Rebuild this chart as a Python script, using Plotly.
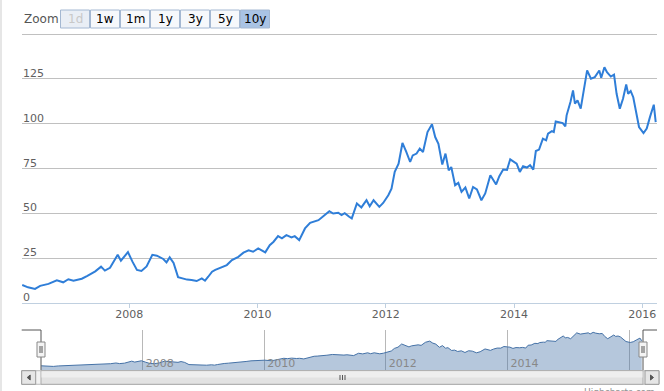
import pandas as pd
import plotly.graph_objects as go

# ---- data (decimal year, closing price) ----
year_pos = [
    2006.33, 2006.42, 2006.53, 2006.61, 2006.74, 2006.87, 2006.97, 2007.05, 2007.13, 2007.26,
    2007.34, 2007.47, 2007.56, 2007.62, 2007.70, 2007.82, 2007.87, 2007.98, 2008.05, 2008.12,
    2008.19, 2008.27, 2008.36, 2008.43, 2008.53, 2008.58, 2008.63, 2008.69, 2008.76, 2008.82,
    2008.90, 2008.97, 2009.05, 2009.13, 2009.18, 2009.23, 2009.29, 2009.34, 2009.41, 2009.52,
    2009.60, 2009.70, 2009.78, 2009.86, 2009.93, 2010.01, 2010.12, 2010.19, 2010.25, 2010.32,
    2010.38, 2010.45, 2010.53, 2010.58, 2010.65, 2010.74, 2010.82, 2010.87, 2010.95, 2011.03,
    2011.12, 2011.18, 2011.26, 2011.31, 2011.36, 2011.43, 2011.47, 2011.55, 2011.62, 2011.70,
    2011.75, 2011.81, 2011.90, 2011.96, 2012.04, 2012.09, 2012.14, 2012.20, 2012.26, 2012.32,
    2012.38, 2012.42, 2012.48, 2012.53, 2012.58, 2012.65, 2012.72, 2012.77, 2012.82, 2012.88,
    2012.93, 2012.98, 2013.02, 2013.08, 2013.13, 2013.18, 2013.24, 2013.30, 2013.36, 2013.42,
    2013.49, 2013.55, 2013.63, 2013.72, 2013.77, 2013.83, 2013.89, 2013.94, 2014.00, 2014.04,
    2014.09, 2014.14, 2014.20, 2014.25, 2014.30, 2014.34, 2014.39, 2014.45, 2014.50, 2014.53,
    2014.59, 2014.62, 2014.65, 2014.71, 2014.76, 2014.80, 2014.82, 2014.88, 2014.92, 2014.95,
    2014.99, 2015.04, 2015.08, 2015.14, 2015.20, 2015.26, 2015.33, 2015.36, 2015.41, 2015.45,
    2015.51, 2015.56, 2015.60, 2015.65, 2015.70, 2015.75, 2015.78, 2015.82, 2015.86, 2015.90,
    2015.95, 2016.02, 2016.07, 2016.12, 2016.18, 2016.21,
]
price = [
    10.2, 8.9, 8.0, 9.7, 10.8, 12.8, 11.7, 13.4, 12.6, 13.7,
    15.2, 17.8, 20.4, 18.2, 19.8, 27.0, 23.7, 28.5, 23.2, 18.6,
    18.0, 20.5, 27.0, 26.5, 24.7, 22.8, 25.6, 22.5, 14.6, 13.9,
    13.2, 13.0, 12.4, 13.9, 12.6, 14.8, 17.6, 18.6, 19.8, 21.3,
    24.1, 25.9, 28.2, 29.5, 28.7, 30.6, 28.4, 32.4, 34.3, 37.4,
    36.2, 38.0, 36.7, 37.4, 35.2, 41.7, 44.8, 45.4, 46.3, 48.6,
    51.3, 50.0, 50.4, 49.1, 50.2, 48.2, 47.3, 55.6, 53.4, 57.4,
    54.1, 57.4, 53.7, 55.9, 60.2, 63.9, 73.2, 77.8, 89.3, 84.3,
    78.7, 82.4, 83.4, 86.2, 84.3, 95.4, 99.7, 92.6, 88.9, 77.3,
    83.4, 74.1, 75.9, 65.8, 67.1, 62.1, 64.5, 58.4, 64.8, 63.4,
    57.4, 61.2, 71.3, 66.2, 70.8, 74.5, 74.3, 80.2, 78.7, 77.8,
    73.2, 76.3, 75.6, 76.9, 74.5, 84.8, 85.6, 91.7, 90.8, 94.5,
    95.9, 95.4, 101.3, 100.6, 100.4, 98.6, 104.7, 112.1, 118.6, 111.2,
    113.0, 108.4, 116.7, 129.7, 125.1, 126.0, 129.7, 125.6, 131.5, 128.7,
    126.3, 127.4, 116.7, 108.4, 113.9, 121.9, 116.7, 118.2, 114.8, 106.5,
    98.2, 94.8, 97.3, 103.7, 110.6, 100.9,
]
x_tick_years = [2008, 2010, 2012, 2014, 2016]
y_tick_vals = [0, 25, 50, 75, 100, 125, 150]
y_tick_text = ["0", "25", "50", "75", "100", "125", ""]
zoom_buttons = ["1d", "1w", "1m", "1y", "3y", "5y", "10y"]
selected_button = "10y"
disabled_button = "1d"
range_start, range_end = 2006.3266, 2016.2299


def to_date(y):
    yr = int(y)
    start = pd.Timestamp(yr, 1, 1)
    days = (pd.Timestamp(yr + 1, 1, 1) - start).days
    return start + pd.Timedelta(days=(y - yr) * days)


dates = [to_date(v) for v in year_pos]
x_range = [to_date(range_start), to_date(range_end)]
tick_dates = [pd.Timestamp(y, 1, 1) for y in x_tick_years]

W, H = 664, 391
FONT = "DejaVu Sans"


def px(x):
    return x / W


def py(y):
    return 1 - y / H


# main plot geometry (pixels): value 0 at y=303.3, value 150 at y=34
Y0_PX, Y150_PX = 303.3, 34.0
PX_PER_UNIT = (Y0_PX - Y150_PX) / 150.0
Y_MIN, Y_MAX = -4.0, 150.6
y_dom_bottom = Y0_PX - Y_MIN * PX_PER_UNIT
y_dom_top = Y0_PX - Y_MAX * PX_PER_UNIT

fig = go.Figure()

# main series
fig.add_trace(go.Scatter(x=dates, y=price, mode="lines",
                         line=dict(color="#2f7ed8", width=2),
                         xaxis="x", yaxis="y", hoverinfo="skip", showlegend=False))

# navigator baseline + area
nav_min = -5
fig.add_trace(go.Scatter(x=dates, y=[nav_min] * len(dates), mode="lines",
                         line=dict(width=0, color="rgba(0,0,0,0)"),
                         xaxis="x2", yaxis="y2", hoverinfo="skip", showlegend=False))
fig.add_trace(go.Scatter(x=dates, y=price, mode="lines", fill="tonexty",
                         fillcolor="rgba(69,114,167,0.40)",
                         line=dict(color="#4572A7", width=1),
                         xaxis="x2", yaxis="y2", hoverinfo="skip", showlegend=False))

shapes = []
annotations = []

# page left border
shapes.append(dict(type="rect", xref="paper", yref="paper", x0=0, x1=px(2),
                   y0=0, y1=1, fillcolor="#e6e6e6", line=dict(width=0), layer="below"))

# white mask below the zero line (hides the padding strip under the axis)
shapes.append(dict(type="rect", xref="paper", yref="paper", x0=px(22), x1=px(657),
                   y0=py(y_dom_bottom + 0.5), y1=py(Y0_PX + 0.6), fillcolor="#ffffff",
                   line=dict(width=0), layer="below"))

# range selector buttons
bx0, bw, bstep = 60.5, 29, 30
for i, lab in enumerate(zoom_buttons):
    x0 = bx0 + i * bstep
    fill = "#f6f8fb"
    color = "#000000"
    if lab == selected_button:
        fill = "#a9c3e4"
    if lab == disabled_button:
        fill = "#e9eef5"
        color = "#c8c8c8"
    shapes.append(dict(type="rect", xref="paper", yref="paper",
                       x0=px(x0), x1=px(x0 + bw), y0=py(28), y1=py(10),
                       fillcolor=fill, line=dict(color="#a4b8d2", width=1)))
    annotations.append(dict(text=lab, xref="paper", yref="paper",
                            x=px(x0 + bw / 2), y=py(19), xanchor="center", yanchor="middle",
                            showarrow=False, font=dict(family=FONT, size=12, color=color)))
annotations.append(dict(text="Zoom", xref="paper", yref="paper", x=px(22), y=py(19),
                        xanchor="left", yanchor="middle", showarrow=False,
                        font=dict(family=FONT, size=12, color="#555555")))

# navigator outline
shapes.append(dict(type="path", xref="paper", yref="paper",
                   path=f"M {px(21.7)},{py(330)} L {px(41)},{py(330)} L {px(41)},{py(370)}",
                   line=dict(color="#555555", width=1)))
shapes.append(dict(type="path", xref="paper", yref="paper",
                   path=f"M {px(643)},{py(370)} L {px(643)},{py(330)} L {px(657)},{py(330)}",
                   line=dict(color="#555555", width=1)))

# scrollbar
shapes.append(dict(type="rect", xref="paper", yref="paper", x0=px(21.7), x1=px(659),
                   y0=py(384.3), y1=py(370.7), fillcolor="#f2f2f2", line=dict(color="#bbbbbb", width=1)))
shapes.append(dict(type="rect", xref="paper", yref="paper", x0=px(41), x1=px(643),
                   y0=py(384.3), y1=py(370.7), fillcolor="#e2e2e2", line=dict(color="#aaaaaa", width=1)))
shapes.append(dict(type="rect", xref="paper", yref="paper", x0=px(41.5), x1=px(642.5),
                   y0=py(377.5), y1=py(371.2), fillcolor="#eeeeee", line=dict(width=0)))
for gx in (340, 342.5, 345):
    shapes.append(dict(type="line", xref="paper", yref="paper", x0=px(gx), x1=px(gx),
                       y0=py(380), y1=py(375), line=dict(color="#555555", width=1)))
for (a, b, d) in ((21.7, 35.7, -1), (645, 659, 1)):
    shapes.append(dict(type="rect", xref="paper", yref="paper", x0=px(a), x1=px(b),
                       y0=py(384.3), y1=py(370.7), fillcolor="#e6e6e6", line=dict(color="#999999", width=1)))
    cx = (a + b) / 2
    if d < 0:
        path = f"M {px(cx + 1.5)},{py(375)} L {px(cx + 1.5)},{py(380)} L {px(cx - 1.5)},{py(377.5)} Z"
    else:
        path = f"M {px(cx - 1.5)},{py(375)} L {px(cx - 1.5)},{py(380)} L {px(cx + 1.5)},{py(377.5)} Z"
    shapes.append(dict(type="path", xref="paper", yref="paper", path=path,
                       fillcolor="#555555", line=dict(color="#555555", width=1)))

# navigator handles
for hx in (41, 643):
    shapes.append(dict(type="rect", xref="paper", yref="paper", x0=px(hx - 4), x1=px(hx + 4),
                       y0=py(357), y1=py(342), fillcolor="#f4f4f4", line=dict(color="#888888", width=1)))
    for lx in (hx - 1, hx + 1):
        shapes.append(dict(type="line", xref="paper", yref="paper", x0=px(lx), x1=px(lx),
                           y0=py(353), y1=py(346), line=dict(color="#555555", width=1)))

# credits
annotations.append(dict(text="Highcharts.com", xref="paper", yref="paper", x=px(657), y=py(385),
                        xanchor="right", yanchor="top", showarrow=False,
                        font=dict(family=FONT, size=9, color="#909090")))

fig.update_layout(
    width=W, height=H,
    margin=dict(l=0, r=0, t=0, b=0),
    paper_bgcolor="#ffffff", plot_bgcolor="rgba(0,0,0,0)",
    showlegend=False,
    font=dict(family=FONT, size=11, color="#606060"),
    xaxis=dict(domain=[px(22), px(657)], anchor="free", position=py(Y0_PX), type="date",
               range=x_range,
               showgrid=False, zeroline=False, showline=True, linecolor="#C0D0E0", linewidth=1,
               ticks="outside", ticklen=4, tickcolor="#C0D0E0", tickwidth=1,
               ticklabelstandoff=-4,
               tickvals=tick_dates, ticktext=[str(y) for y in x_tick_years],
               tickfont=dict(family=FONT, size=11, color="#606060"), fixedrange=True),
    yaxis=dict(domain=[py(y_dom_bottom), py(y_dom_top)], anchor="x", range=[Y_MIN, Y_MAX],
               tickvals=y_tick_vals, ticktext=y_tick_text, showgrid=True, gridcolor="#C0C0C0",
               gridwidth=1, zeroline=False, showline=False, ticks="",
               ticklabelposition="inside", ticklabelshift=-6, ticklabelstandoff=-2,
               tickfont=dict(family=FONT, size=11, color="#606060"), fixedrange=True),
    xaxis2=dict(domain=[px(41), px(643)], anchor="y2", type="date", range=x_range,
                showgrid=True, gridcolor="#b8b8b8", gridwidth=1, zeroline=False, showline=False,
                ticks="", tickvals=tick_dates, ticktext=[str(y) for y in x_tick_years],
                ticklabelposition="inside right", ticklabelshift=3, ticklabelstandoff=-5,
                tickfont=dict(family=FONT, size=11, color="#888888"), fixedrange=True),
    yaxis2=dict(domain=[py(370), py(330)], anchor="x2", range=[nav_min, 140], visible=False,
                showgrid=False, fixedrange=True),
    shapes=shapes,
    annotations=annotations,
)

fig.write_html("out.html", post_script="document.body.style.margin='0';",
               config={"displayModeBar": False})
